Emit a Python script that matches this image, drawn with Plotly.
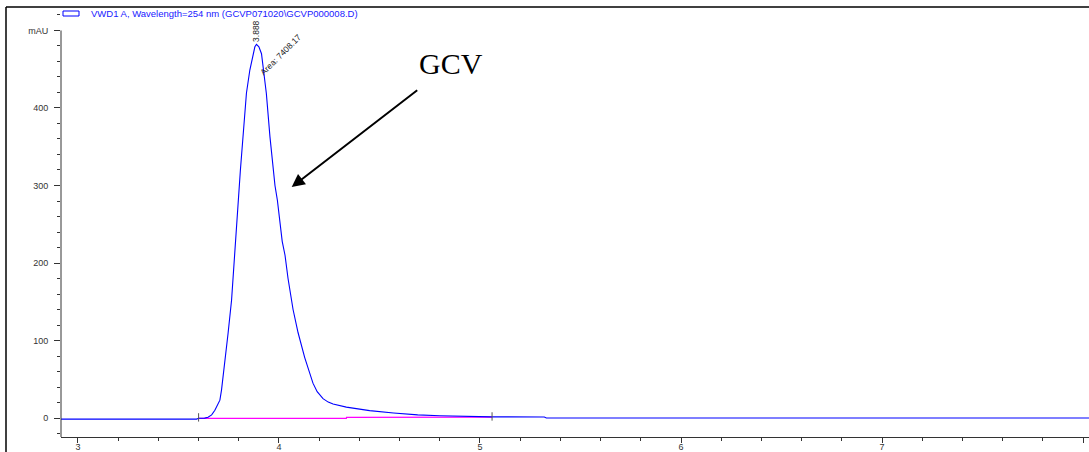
import plotly.graph_objects as go

# Chromatogram trace, VWD1 A at 254 nm (time in min, signal in mAU)
time_min = [2.915, 3.59, 3.60, 3.630, 3.647, 3.665, 3.681, 3.694, 3.706, 3.714,
            3.722, 3.735, 3.747, 3.764, 3.780, 3.796, 3.808, 3.821, 3.830, 3.838,
            3.855, 3.871, 3.880, 3.888, 3.900, 3.913, 3.924, 3.937, 3.955, 3.966,
            3.980, 3.992, 4.004, 4.016, 4.030, 4.045, 4.070, 4.095, 4.128, 4.150,
            4.169, 4.190, 4.219, 4.245, 4.269, 4.335, 4.451, 4.57, 4.69, 4.80,
            4.88, 4.90, 5.06, 5.32, 5.33, 8.03]
signal_mau = [-1.4, -1.4, -0.3, -0.1, 1, 4, 10, 16, 23, 36,
              53, 80, 110, 152, 217, 281, 320, 363, 392, 419,
              449, 470, 479, 482, 479, 470, 449, 419, 363, 333,
              300, 281, 250, 228, 210, 180, 140, 110, 78, 60,
              45, 34, 25, 20.5, 18, 14, 9.5, 6.5, 4, 3,
              2.5, 1.8, 1.5, 1.3, 0, 0]

# Integration baseline and its start / end markers
baseline_time = [3.60, 4.335, 4.336, 5.06]
baseline_mau = [-0.4, -0.4, 0.9, 1.1]
marker_time = [3.60, 5.06]
marker_mau = [0.8, 2.0]

# Peak annotation
peak_rt = 3.888
peak_height = 482
peak_area = 7408.17

# Axis ticks
x_tick_vals = [3, 4, 5, 6, 7, 8]
x_tick_text = ["3", "4", "5", "6", "7", "min"]
y_tick_vals = [0, 100, 200, 300, 400, 500]
y_tick_text = ["0", "100", "200", "300", "400", "mAU"]

legend_text = "VWD1 A, Wavelength=254 nm (GCVP071020\\GCVP000008.D)"

X_RANGE = [2.9155, 8.0298]
Y_RANGE = [-24.5, 530.3]
AXIS_COLOR = "#333333"
TEXT_COLOR = "#333333"
FONT = "Liberation Sans, Arial, sans-serif"

fig = go.Figure()

fig.add_trace(go.Scatter(
    x=baseline_time, y=baseline_mau, mode="lines",
    line=dict(color="#ff00ff", width=1.2), hoverinfo="skip", showlegend=False))

fig.add_trace(go.Scatter(
    x=time_min, y=signal_mau, mode="lines",
    line=dict(color="#0000ff", width=1.1),
    showlegend=False, name="VWD1 A"))

fig.add_trace(go.Scatter(
    x=marker_time, y=marker_mau, mode="markers",
    marker=dict(symbol="line-ns", size=6, line=dict(color="#555555", width=1)),
    hoverinfo="skip", showlegend=False))

fig.update_layout(
    width=1089, height=452,
    margin=dict(l=61, r=0, t=7, b=15, autoexpand=False),
    paper_bgcolor="white", plot_bgcolor="white",
    font=dict(family=FONT, size=9, color=TEXT_COLOR),
    xaxis=dict(
        range=X_RANGE, showgrid=False, zeroline=False, automargin=False,
        showline=True, linecolor=AXIS_COLOR, linewidth=1,
        tickmode="array", tickvals=x_tick_vals, ticktext=x_tick_text,
        ticks="outside", ticklen=5, tickcolor=AXIS_COLOR, tickwidth=1,
        minor=dict(dtick=0.2, tick0=3, ticks="outside", ticklen=3,
                   tickcolor=AXIS_COLOR, showgrid=False),
        tickfont=dict(size=9, color=TEXT_COLOR),
        ticklabelstandoff=-4,
    ),
    yaxis=dict(
        range=Y_RANGE, showgrid=False, zeroline=False, showline=False,
        automargin=False,
        tickmode="array", tickvals=y_tick_vals, ticktext=y_tick_text,
        ticks="outside", ticklen=6, tickcolor=AXIS_COLOR, tickwidth=1,
        minor=dict(dtick=20, tick0=0, ticks="outside", ticklen=3,
                   tickcolor=AXIS_COLOR, showgrid=False),
        tickfont=dict(size=9, color=TEXT_COLOR),
        ticklabelstandoff=4,
    ),
    shapes=[
        # y axis line from the bottom of the range up to the mAU tick
        dict(type="line", xref="paper", yref="y", x0=0, x1=0,
             y0=Y_RANGE[0], y1=500, line=dict(color=AXIS_COLOR, width=1)),
        # outer frame (left and top)
        dict(type="line", xref="paper", yref="paper", x0=-0.0535, x1=-0.0535,
             y0=1, y1=-0.05, line=dict(color="black", width=1.5)),
        dict(type="line", xref="paper", yref="paper", x0=-0.0535, x1=1,
             y0=1, y1=1, line=dict(color="black", width=1.5)),
        # legend swatch
        dict(type="rect", xref="paper", yref="paper",
             x0=(63 - 61) / 1028, x1=(79 - 61) / 1028,
             y0=(437 - 16) / 430, y1=(437 - 11) / 430,
             line=dict(color="#0000ff", width=1)),
    ],
    annotations=[
        dict(text=legend_text, xref="paper", yref="paper",
             x=(89 - 61) / 1028, y=(437 - 13.5) / 430,
             xanchor="left", yanchor="middle", showarrow=False,
             font=dict(family=FONT, size=9.5, color="#2020ff")),
        dict(text=f"{peak_rt:.3f}", x=peak_rt, y=peak_height,
             xanchor="center", yanchor="bottom", textangle=-90,
             showarrow=False, yshift=1,
             font=dict(family=FONT, size=8.5, color="#222222")),
        dict(text=f"Area: {peak_area:.2f}", x=peak_rt, y=peak_height,
             xanchor="center", yanchor="middle", textangle=-45,
             showarrow=False, xshift=25, yshift=-10,
             font=dict(family=FONT, size=8.5, color="#222222")),
        dict(text="GCV", xref="paper", yref="paper",
             x=(451 - 61) / 1028, y=(437 - 63) / 430,
             xanchor="center", yanchor="middle", showarrow=False,
             font=dict(family="Liberation Serif, Times New Roman, serif",
                       size=30, color="black")),
        dict(text="", x=4.0633, y=298, ax=127, ay=-98,
             showarrow=True, arrowhead=2, arrowsize=1.3, arrowwidth=2,
             arrowcolor="black", standoff=0),
    ],
)

fig.write_html("out.html")
